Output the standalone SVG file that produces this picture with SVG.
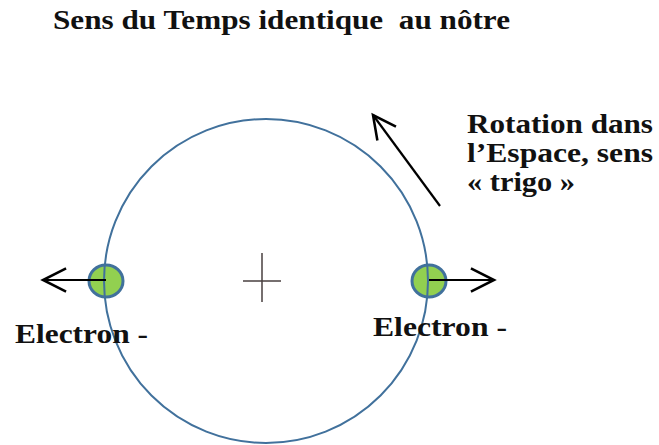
<svg xmlns="http://www.w3.org/2000/svg" width="659" height="445" viewBox="0 0 659 445">
<style>
.t{font-family:"Liberation Serif","Times New Roman",serif;font-weight:bold;font-size:27px;fill:#111;white-space:pre}
.orbit{fill:none;stroke:#41719c;stroke-width:2}
.el{fill:#92d050;stroke:#41719c;stroke-width:3}
.arr{fill:none;stroke:#000;stroke-width:2.2;marker-end:url(#head)}
</style>
<defs>
<marker id="head" markerUnits="userSpaceOnUse" markerWidth="30" markerHeight="30" viewBox="-22 -12 26 24" refX="0" refY="0" orient="auto">
<path d="M-20,-10 L0,0 L-20,10" fill="none" stroke="#000" stroke-width="2.2"/>
</marker>
</defs>
<rect width="659" height="445" fill="#fff"/>
<text class="t" x="53" y="29" textLength="457" lengthAdjust="spacingAndGlyphs">Sens du Temps identique  au nôtre</text>
<g id="electron-left"><ellipse class="el" cx="106" cy="281" rx="17" ry="16"/></g>
<g id="electron-right"><ellipse class="el" cx="429" cy="281" rx="17" ry="16"/></g>
<g id="orbit"><circle class="orbit" cx="266" cy="281" r="162"/></g>
<g id="center"><path d="M262,253 V302 M243,281 H281" stroke="#4a4040" stroke-width="1.5" fill="none"/></g>
<g id="connectors">
<line class="arr" x1="106" y1="280" x2="43" y2="280"/>
<line class="arr" x1="429" y1="280" x2="494" y2="280"/>
<line class="arr" x1="440" y1="206" x2="373" y2="115"/>
</g>
<g id="label-rotation">
<text class="t" x="467" y="133" textLength="186" lengthAdjust="spacingAndGlyphs">Rotation dans</text>
<text class="t" x="467" y="162" textLength="186" lengthAdjust="spacingAndGlyphs">l’Espace, sens</text>
<text class="t" x="467" y="191" textLength="108" lengthAdjust="spacingAndGlyphs">« trigo »</text>
</g>
<g id="label-left"><text class="t" x="15" y="343" textLength="133" lengthAdjust="spacingAndGlyphs">Electron -</text></g>
<g id="label-right"><text class="t" x="373" y="336" textLength="134" lengthAdjust="spacingAndGlyphs">Electron -</text></g>
</svg>
